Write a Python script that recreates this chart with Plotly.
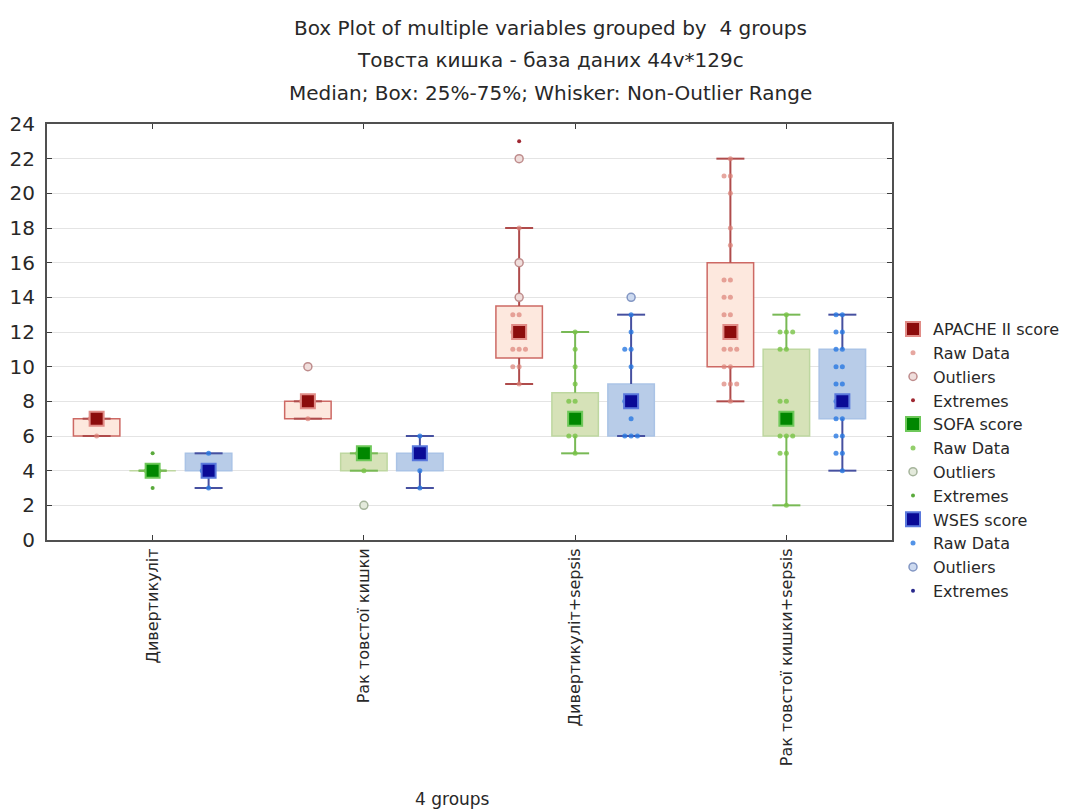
import plotly.graph_objects as go

# ---------------- data ----------------
groups = ["Дивертикуліт", "Рак товстої кишки", "Дивертикуліт+sepsis", "Рак товстої кишки+sepsis"]
series_names = ["APACHE II score", "SOFA score", "WSES score"]

apache_q1 = [6, 7, 10.5, 10]
apache_median = [7, 8, 12, 12]
apache_q3 = [7, 8, 13.5, 16]
apache_min = [6, 7, 9, 8]
apache_max = [7, 8, 18, 22]
apache_raw = [[6, 7, 7], [7, 8, 8],
              [13, 13, 12, 12, 11, 11, 11, 10, 10, 9, 18],
              [22, 21, 21, 20, 18, 17, 15, 15, 14, 14, 13, 13, 11, 11, 11, 10, 10, 9, 9, 9, 8]]
apache_outliers = [[], [10], [22, 16, 14], []]
apache_extremes = [[], [], [23], []]

sofa_q1 = [4, 4, 6, 6]
sofa_median = [4, 5, 7, 7]
sofa_q3 = [4, 5, 8.5, 11]
sofa_min = [4, 4, 5, 2]
sofa_max = [4, 5, 12, 13]
sofa_raw = [[4, 4, 4], [4, 5, 5],
            [12, 11, 10, 9, 8, 8, 7, 6, 6, 5],
            [13, 12, 12, 12, 11, 11, 8, 8, 7, 6, 6, 6, 5, 5, 2]]
sofa_outliers = [[], [2], [], []]
sofa_extremes = [[5, 3], [], [], []]

wses_q1 = [4, 4, 6, 7]
wses_median = [4, 5, 8, 8]
wses_q3 = [5, 5, 9, 11]
wses_min = [3, 3, 6, 4]
wses_max = [5, 6, 13, 13]
wses_raw = [[5, 4, 4, 3], [6, 5, 4, 3],
            [13, 12, 11, 11, 10, 8, 8, 7, 6, 6, 6],
            [13, 13, 12, 12, 11, 11, 10, 10, 9, 9, 8, 8, 7, 7, 6, 6, 5, 5, 4]]
wses_outliers = [[], [], [14], []]
wses_extremes = [[], [], [], []]

# ---------------- styles ----------------
FONT = "DejaVu Sans, Liberation Sans, Arial, sans-serif"
offsets = [-0.265, 0.0, 0.265]
box_w = 0.22
styles = [
    dict(fill="rgb(253,232,222)", edge="rgb(205,105,100)", whisk="rgb(175,75,75)",
         med="rgb(140,12,12)", medline="rgb(225,140,135)", raw="rgba(220,130,120,0.7)",
         out_line="rgb(190,140,140)", out_fill="rgb(240,222,220)", ext="rgb(160,40,50)"),
    dict(fill="rgb(214,226,184)", edge="rgb(190,215,160)", whisk="rgb(120,185,85)",
         med="rgb(0,135,0)", medline="rgb(110,200,90)", raw="rgba(120,195,70,0.8)",
         out_line="rgb(165,180,155)", out_fill="rgb(228,234,220)", ext="rgb(90,170,60)"),
    dict(fill="rgb(184,204,232)", edge="rgb(170,195,230)", whisk="rgb(70,80,160)",
         med="rgb(10,10,150)", medline="rgb(90,120,220)", raw="rgba(40,120,225,0.8)",
         out_line="rgb(130,150,195)", out_fill="rgb(205,218,240)", ext="rgb(40,40,140)"),
]

stats = [
    (apache_q1, apache_median, apache_q3, apache_min, apache_max, apache_raw, apache_outliers, apache_extremes),
    (sofa_q1, sofa_median, sofa_q3, sofa_min, sofa_max, sofa_raw, sofa_outliers, sofa_extremes),
    (wses_q1, wses_median, wses_q3, wses_min, wses_max, wses_raw, wses_outliers, wses_extremes),
]

jitter = [0.0, -0.03, 0.03, -0.06, 0.06]

fig = go.Figure()

for s, (name, st, off) in enumerate(zip(series_names, styles, offsets)):
    q1, med, q3, lo, hi, raw, outl, ext = stats[s]
    pos = [g + off for g in range(len(groups))]
    fig.add_trace(go.Bar(
        x=pos, y=[b - a for a, b in zip(q1, q3)], base=q1, width=box_w,
        marker=dict(color=st["fill"], line=dict(color=st["edge"], width=1.5)),
        showlegend=False, hoverinfo="skip"))

for s, (name, st, off) in enumerate(zip(series_names, styles, offsets)):
    q1, med, q3, lo, hi, raw, outl, ext = stats[s]
    pos = [g + off for g in range(len(groups))]
    wx, wy = [], []
    for p, a, b, l, h in zip(pos, q1, q3, lo, hi):
        wx += [p, p, None, p, p, None]
        wy += [b, h, None, a, l, None]
    fig.add_trace(go.Scatter(x=wx, y=wy, mode="lines",
                             line=dict(color=st["whisk"], width=2),
                             showlegend=False, hoverinfo="skip"))
    fig.add_trace(go.Scatter(x=pos + pos, y=lo + hi, mode="markers",
                             marker=dict(symbol="line-ew", size=20,
                                         line=dict(color=st["whisk"], width=2)),
                             showlegend=False, hoverinfo="skip"))


def flatten(lists, off, spread):
    xs, ys = [], []
    for g, vals in enumerate(lists):
        seen = {}
        for v in vals:
            k = seen.get(v, 0)
            seen[v] = k + 1
            xs.append(g + off + (spread[k % len(spread)] if spread else 0))
            ys.append(v)
    if not xs:
        xs, ys = [None], [None]
    return xs, ys


for s, (name, st, off) in enumerate(zip(series_names, styles, offsets)):
    q1, med, q3, lo, hi, raw, outl, ext = stats[s]
    rx, ry = flatten(raw, off, jitter)
    fig.add_trace(go.Scatter(x=rx, y=ry, mode="markers", name="Raw Data",
                             marker=dict(symbol="circle", size=5, color=st["raw"]),
                             legendrank=s * 10 + 2))
    ox, oy = flatten(outl, off, None)
    fig.add_trace(go.Scatter(x=ox, y=oy, mode="markers", name="Outliers",
                             marker=dict(symbol="circle", size=8, color=st["out_fill"],
                                         line=dict(color=st["out_line"], width=1.5)),
                             legendrank=s * 10 + 3))
    ex, ey = flatten(ext, off, None)
    fig.add_trace(go.Scatter(x=ex, y=ey, mode="markers", name="Extremes",
                             marker=dict(symbol="circle", size=4, color=st["ext"]),
                             legendrank=s * 10 + 4))
    fig.add_trace(go.Scatter(x=[g + off for g in range(len(groups))], y=med, mode="markers",
                             name=name,
                             marker=dict(symbol="square", size=14, color=st["med"],
                                         line=dict(color=st["medline"], width=2)),
                             legendrank=s * 10 + 1))

# ---------------- layout ----------------
# page offset of the figure inside the html body (default body margin)
PAGE = 8
W, Hgt = 1090, 812
plot_l, plot_r, plot_t, plot_b = 47, 892, 124, 540
H = plot_b - plot_t


def py(pix):
    return (plot_b - pix) / H


def px(pix):
    return (pix - plot_l) / (plot_r - plot_l)


titles = ["Box Plot of multiple variables grouped by  4 groups",
          "Товста кишка - база даних 44v*129c",
          "Median; Box: 25%-75%; Whisker: Non-Outlier Range"]
title_y = [28, 60, 93]
annotations = []
for t, yy in zip(titles, title_y):
    annotations.append(dict(text=t, x=px(550), y=py(yy), xref="paper", yref="paper",
                            xanchor="center", yanchor="middle", showarrow=False,
                            font=dict(family=FONT, size=20, color="rgb(40,40,40)")))
annotations.append(dict(text="4 groups", x=px(452), y=py(799), xref="paper", yref="paper",
                        xanchor="center", yanchor="middle", showarrow=False,
                        font=dict(family=FONT, size=17, color="rgb(40,40,40)")))

fig.update_layout(
    width=W - PAGE, height=Hgt - PAGE,
    margin=dict(l=plot_l - PAGE, r=W - plot_r, t=plot_t - PAGE, b=Hgt - plot_b,
                autoexpand=False),
    paper_bgcolor="white", plot_bgcolor="white",
    barmode="overlay",
    font=dict(family=FONT, color="rgb(40,40,40)"),
    annotations=annotations,
    legend=dict(x=px(893), y=py(312), xanchor="left", yanchor="top",
                font=dict(family=FONT, size=16, color="rgb(40,40,40)"),
                bgcolor="rgba(0,0,0,0)", traceorder="normal", itemwidth=30),
    xaxis=dict(range=[-0.5, len(groups) - 0.5], tickvals=list(range(len(groups))),
               ticktext=groups, tickangle=-90, showgrid=False, zeroline=False,
               showline=True, mirror="ticks", linecolor="rgb(80,80,80)", linewidth=2,
               ticks="inside", ticklen=5, tickcolor="rgb(60,60,60)", automargin=False,
               tickfont=dict(family=FONT, size=16, color="rgb(40,40,40)")),
    yaxis=dict(range=[0, 24], tickvals=list(range(0, 25, 2)), showgrid=True,
               gridcolor="rgb(228,228,228)", gridwidth=1, zeroline=False,
               showline=True, mirror="ticks", linecolor="rgb(80,80,80)", linewidth=2,
               ticks="inside", ticklen=5, tickcolor="rgb(60,60,60)", automargin=False,
               ticklabelstandoff=6,
               tickfont=dict(family=FONT, size=20, color="rgb(40,40,40)")),
)

fig.write_html("out.html")
